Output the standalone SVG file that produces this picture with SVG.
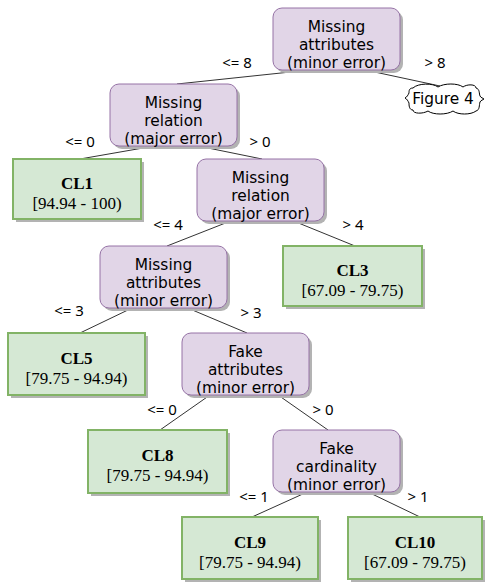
<svg xmlns="http://www.w3.org/2000/svg" width="485" height="586" viewBox="0 0 485 586">
<style>
.dec{fill:#e1d5e7;stroke:#9673a6;stroke-width:1}
.leaf{fill:#d5e8d4;stroke:#82b366;stroke-width:2}
.sh{fill:#b3b3b3}
.t{font-family:"DejaVu Sans","Liberation Sans",sans-serif;font-size:15.4px;fill:#000;text-anchor:middle}
.lb{font-family:"Noto Sans","Liberation Sans",sans-serif;font-size:15px;fill:#000;text-anchor:middle}
.lt{font-family:"Liberation Serif",serif;font-size:17px;fill:#000;text-anchor:middle}
.b{font-weight:bold}
.e{stroke:#333;stroke-width:1;fill:none}
</style>
<rect width="485" height="586" fill="#fff"/>
<g id="connectors">
<path class="e" d="M300,71 L177,84"/>
<path class="e" d="M370,71 L440,86"/>
<path class="e" d="M143,148 L80,159"/>
<path class="e" d="M208,148 L262,159"/>
<path class="e" d="M228,222 L167,246"/>
<path class="e" d="M296,222 L355,246"/>
<path class="e" d="M130,309 L80,333"/>
<path class="e" d="M190,309 L247,333"/>
<path class="e" d="M210,395 L160,430"/>
<path class="e" d="M278,395 L328,430"/>
<path class="e" d="M305,493 L252,517"/>
<path class="e" d="M370,493 L420,517"/>
</g>
<g id="labels">
<text class="lb" x="237" y="68">&lt;= 8</text>
<text class="lb" x="435" y="68">&gt; 8</text>
<text class="lb" x="80" y="147">&lt;= 0</text>
<text class="lb" x="260" y="147">&gt; 0</text>
<text class="lb" x="168" y="230">&lt;= 4</text>
<text class="lb" x="353" y="230">&gt; 4</text>
<text class="lb" x="69" y="316">&lt;= 3</text>
<text class="lb" x="251" y="318">&gt; 3</text>
<text class="lb" x="162" y="415">&lt;= 0</text>
<text class="lb" x="323" y="415">&gt; 0</text>
<text class="lb" x="254" y="502">&lt;= 1</text>
<text class="lb" x="418" y="502">&gt; 1</text>
</g>
<g id="root">
<rect class="sh" x="276" y="11" width="127" height="62" rx="9"/>
<rect class="dec" x="273" y="8" width="127" height="62" rx="9"/>
<text class="t" x="336.5" y="32">Missing</text>
<text class="t" x="336.5" y="50">attributes</text>
<text class="t" x="336.5" y="68">(minor error)</text>
</g>
<g id="fig4">
<path d="M413,88 C418,83 433,83 438,87 C444,83 458,83 463,87 C467,84 476,84 476,88 C480,89 479,94 480,96 C481,98 483,98 484,99 C483,100 481,100 480,102 C479,105 480,110 476,111 C471,115 458,115 453,111 C447,115 433,115 428,111 C423,114 413,114 413,110 C409,110 409,105 409,103 C408,101 407,99 405,98 C407,97 408,95 409,93 C409,91 409,88 413,88 Z" fill="#fff" stroke="#000" stroke-width="1"/>
<text class="t" x="443" y="104">Figure 4</text>
</g>
<g id="n1">
<rect class="sh" x="113" y="87" width="127" height="62" rx="9"/>
<rect class="dec" x="110" y="84" width="127" height="62" rx="9"/>
<text class="t" x="173.5" y="108">Missing</text>
<text class="t" x="173.5" y="126">relation</text>
<text class="t" x="173.5" y="144">(major error)</text>
</g>
<g id="cl1">
<rect class="sh" x="16" y="162" width="128" height="60"/>
<rect class="leaf" x="13" y="159" width="128" height="60"/>
<text class="lt b" x="77" y="189">CL1</text>
<text class="lt" x="77" y="209">[94.94 - 100)</text>
</g>
<g id="n2">
<rect class="sh" x="200" y="162" width="127" height="62" rx="9"/>
<rect class="dec" x="197" y="159" width="127" height="62" rx="9"/>
<text class="t" x="260.5" y="183">Missing</text>
<text class="t" x="260.5" y="201">relation</text>
<text class="t" x="260.5" y="219">(major error)</text>
</g>
<g id="cl3">
<rect class="sh" x="286" y="249" width="139" height="60"/>
<rect class="leaf" x="283" y="246" width="139" height="60"/>
<text class="lt b" x="352.5" y="276">CL3</text>
<text class="lt" x="352.5" y="296">[67.09 - 79.75)</text>
</g>
<g id="n3">
<rect class="sh" x="103" y="249" width="127" height="62" rx="9"/>
<rect class="dec" x="100" y="246" width="127" height="62" rx="9"/>
<text class="t" x="163.5" y="270">Missing</text>
<text class="t" x="163.5" y="288">attributes</text>
<text class="t" x="163.5" y="306">(minor error)</text>
</g>
<g id="cl5">
<rect class="sh" x="11" y="336" width="137" height="62"/>
<rect class="leaf" x="8" y="333" width="137" height="62"/>
<text class="lt b" x="76.5" y="364">CL5</text>
<text class="lt" x="76.5" y="384">[79.75 - 94.94)</text>
</g>
<g id="fa">
<rect class="sh" x="185" y="336" width="127" height="62" rx="9"/>
<rect class="dec" x="182" y="333" width="127" height="62" rx="9"/>
<text class="t" x="245.5" y="357">Fake</text>
<text class="t" x="245.5" y="375">attributes</text>
<text class="t" x="245.5" y="393">(minor error)</text>
</g>
<g id="cl8">
<rect class="sh" x="91" y="433" width="139" height="63"/>
<rect class="leaf" x="88" y="430" width="139" height="63"/>
<text class="lt b" x="157.5" y="461">CL8</text>
<text class="lt" x="157.5" y="481">[79.75 - 94.94)</text>
</g>
<g id="fc">
<rect class="sh" x="276" y="433" width="127" height="62" rx="9"/>
<rect class="dec" x="273" y="430" width="127" height="62" rx="9"/>
<text class="t" x="336.5" y="454">Fake</text>
<text class="t" x="336.5" y="472">cardinality</text>
<text class="t" x="336.5" y="490">(minor error)</text>
</g>
<g id="cl9">
<rect class="sh" x="185" y="520" width="136" height="62"/>
<rect class="leaf" x="182" y="517" width="136" height="62"/>
<text class="lt b" x="250" y="548">CL9</text>
<text class="lt" x="250" y="568">[79.75 - 94.94)</text>
</g>
<g id="cl10">
<rect class="sh" x="351" y="520" width="134" height="62"/>
<rect class="leaf" x="348" y="517" width="134" height="62"/>
<text class="lt b" x="415" y="548">CL10</text>
<text class="lt" x="415" y="568">[67.09 - 79.75)</text>
</g>
</svg>
